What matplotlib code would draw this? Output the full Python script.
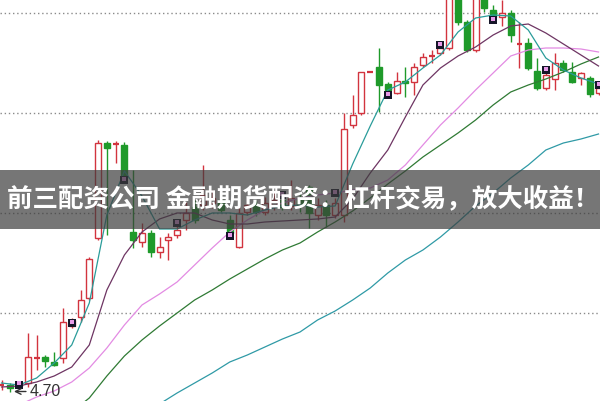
import matplotlib
matplotlib.use("Agg")
import matplotlib.pyplot as plt
from matplotlib.patches import Rectangle
import numpy as np

# ---------------- data (price units) ----------------
opens = [4.77,4.78,4.77,4.80,5.05,5.06,5.01,5.05,5.37,5.46,5.65,6.25,7.20,7.19,7.18,6.31,6.21,6.30,6.11,6.23,
         6.28,6.43,6.56,6.58,6.60,6.63,6.43,6.16,6.51,6.58,6.51,6.58,6.63,6.57,6.65,6.76,6.48,6.58,6.48,6.48,
         7.38,7.50,7.91,7.96,7.79,7.70,7.82,7.81,7.98,8.07,8.10,8.15,8.73,8.41,8.13,8.68,8.53,8.46,8.50,8.19,
         8.20,7.92,7.75,7.84,8.00,7.91,7.85,7.85,7.70]
highs = [4.83,4.80,4.80,5.30,5.28,5.08,5.11,5.55,5.45,5.73,6.06,7.23,7.22,7.22,7.21,6.93,6.40,6.33,6.26,6.30,
         6.37,6.61,6.63,6.98,6.73,6.68,6.48,6.77,6.65,6.63,6.66,6.71,6.68,6.83,6.70,6.78,6.65,6.63,6.65,7.50,
         7.68,7.91,7.92,8.15,7.81,7.91,7.96,8.00,8.10,8.13,8.17,8.93,8.88,8.43,8.83,8.78,8.58,8.63,8.53,8.41,
         8.25,8.05,7.91,8.10,8.03,8.01,7.91,7.87,7.78]
lows = [4.73,4.71,4.75,4.76,4.93,4.96,4.97,5.00,5.35,5.41,5.63,6.23,6.28,7.00,6.81,6.15,6.16,6.06,6.05,6.03,
        6.25,6.33,6.40,6.53,6.55,6.51,6.28,6.15,6.48,6.47,6.48,6.53,6.53,6.53,6.51,6.35,6.43,6.36,6.45,6.41,
        7.35,7.48,7.91,7.51,7.71,7.69,7.66,7.68,7.96,8.00,8.08,8.13,8.38,8.11,8.11,8.51,8.45,8.37,8.21,7.95,
        7.93,7.73,7.73,7.73,7.91,7.80,7.78,7.66,7.68]
closes = [4.78,4.75,4.79,5.06,5.06,5.02,4.98,5.41,5.43,5.63,6.04,7.20,7.15,7.20,6.85,6.23,6.30,6.11,6.16,6.26,
          6.33,6.50,6.43,6.68,6.65,6.53,6.30,6.50,6.58,6.51,6.60,6.63,6.56,6.65,6.57,6.50,6.58,6.48,6.60,7.34,
          7.48,7.91,7.92,7.78,7.73,7.82,7.80,7.96,8.06,8.08,8.15,8.78,8.41,8.13,8.73,8.55,8.46,8.50,8.28,8.20,
          7.95,7.75,7.88,8.00,7.93,7.81,7.90,7.69,7.75]

# weekly signal markers (day index, price)
marker_days = [2, 8, 14, 20, 26, 32, 38, 44, 50, 56, 62, 68]
marker_vals = [4.78, 5.40, 6.83, 6.40, 6.27, 6.68, 6.70, 7.68, 8.18, 8.43, 7.93, 7.78]

# moving-average lines, read every second day
ma_days = list(range(0, 69, 2))
ma5 = [4.80,4.78,4.85,5.00,5.18,5.60,6.48,6.92,6.67,6.34,6.34,6.43,6.50,6.50,6.48,6.53,6.57,6.58,6.56,6.57,
       6.99,7.37,7.73,7.81,7.95,8.08,8.31,8.45,8.48,8.47,8.33,8.05,7.93,7.85,7.79]
ma10 = [4.76,4.77,4.81,4.87,4.96,5.18,5.73,6.08,6.31,6.44,6.50,6.50,6.43,6.39,6.39,6.41,6.42,6.43,6.44,6.46,
        6.64,6.90,7.13,7.46,7.78,7.95,8.07,8.16,8.28,8.37,8.39,8.30,8.19,8.08,7.97]
ma20 = [4.53,4.58,4.66,4.72,4.81,4.95,5.15,5.38,5.58,5.69,5.81,5.98,6.15,6.31,6.43,6.53,6.60,6.65,6.68,6.70,
        6.73,6.75,6.83,6.98,7.18,7.38,7.55,7.73,7.90,8.07,8.13,8.15,8.15,8.14,8.11]
ma60_days = list(range(8, 69, 2))
ma60 = [4.51,4.65,4.87,5.07,5.23,5.37,5.50,5.63,5.73,5.84,5.94,6.04,6.13,6.20,6.31,6.41,6.52,6.65,6.79,6.92,
        7.06,7.18,7.30,7.43,7.58,7.71,7.78,7.84,7.91,7.99,8.06]
ma120_days = list(range(18, 69, 2))
ma120 = [4.59,4.70,4.80,4.90,5.01,5.08,5.16,5.24,5.31,5.43,5.52,5.63,5.75,5.90,6.03,6.13,6.26,6.41,6.57,6.70,
         6.85,6.98,7.13,7.20,7.24,7.29]

grid_levels = [8.5, 7.5, 6.5, 5.5]
low_label = "4.70"
low_value = 4.715
banner_text = "前三配资公司 金融期货配资：杠杆交易，放大收益！"

# ---------------- drawing ----------------
RED = "#d2343f"
GREEN = "#1f9a2a"

fig = plt.figure(figsize=(6.0, 4.01), dpi=100)
ax = fig.add_axes([0, 0, 1, 1])
ax.set_axis_off()
ax.set_xlim(-0.171, 68.17)
ax.set_ylim(4.62, 8.63)

for g in grid_levels:
    ax.axhline(g, color="#8a8a8a", lw=1.0, linestyle=(0, (1, 2)), zorder=0)

w = 0.68
for i, (o, h, l, c) in enumerate(zip(opens, highs, lows, closes)):
    up = c >= o
    col = RED if up else GREEN
    top, bot = max(o, c), min(o, c)
    if top - bot < 0.015:
        ax.vlines(i, l, h, color=col, lw=1.0, zorder=2)
        ax.hlines((o + c) / 2, i - w / 2, i + w / 2, color=col, lw=1.6, zorder=2)
        continue
    ax.vlines(i, top, h, color=col, lw=1.0, zorder=2)
    ax.vlines(i, l, bot, color=col, lw=1.0, zorder=2)
    if up:
        ax.bar(i, top - bot, bottom=bot, width=w, facecolor="white", edgecolor=col, lw=1.0, zorder=2)
    else:
        ax.bar(i, top - bot, bottom=bot, width=w, facecolor=col, edgecolor=col, lw=1.0, zorder=2)

ax.plot(ma120_days, ma120, color="#2f9aa6", lw=0.9, zorder=3)
ax.plot(ma60_days, ma60, color="#2f7a34", lw=0.9, zorder=3)
ax.plot(ma_days, ma20, color="#e38be3", lw=0.9, zorder=3)
ax.plot(ma_days, ma10, color="#6e3563", lw=0.9, zorder=3)
ax.plot(ma_days, ma5, color="#2a9c9a", lw=0.9, zorder=3)

ax.scatter(marker_days, marker_vals, marker="s", s=34, color="#161629", zorder=4, linewidths=0)
ax.scatter(marker_days, [v + 0.015 for v in marker_vals], marker="s", s=9, color="#e79be8", zorder=5, linewidths=0)

ax.annotate("", xy=(1.1, low_value), xytext=(3.1, low_value),
            arrowprops=dict(arrowstyle="->", color="#333333", lw=1.0), zorder=5)
ax.text(3.2, low_value, low_label, fontsize=11.5, family="Liberation Sans", color="#333333",
        ha="left", va="center", zorder=5)

# banner
fig.patches.append(Rectangle((0, (401 - 229) / 401), 1, 59 / 401, transform=fig.transFigure,
                             facecolor="#3c3c3c", alpha=0.7, edgecolor="none", zorder=10))
fig.text(7 / 600, (401 - 199) / 401, banner_text, color="white", fontsize=18.4, fontweight="bold",
         family=["Noto Sans CJK SC", "DejaVu Sans"], ha="left", va="center", zorder=11)

fig.savefig("out.png", dpi=100, facecolor="white")
